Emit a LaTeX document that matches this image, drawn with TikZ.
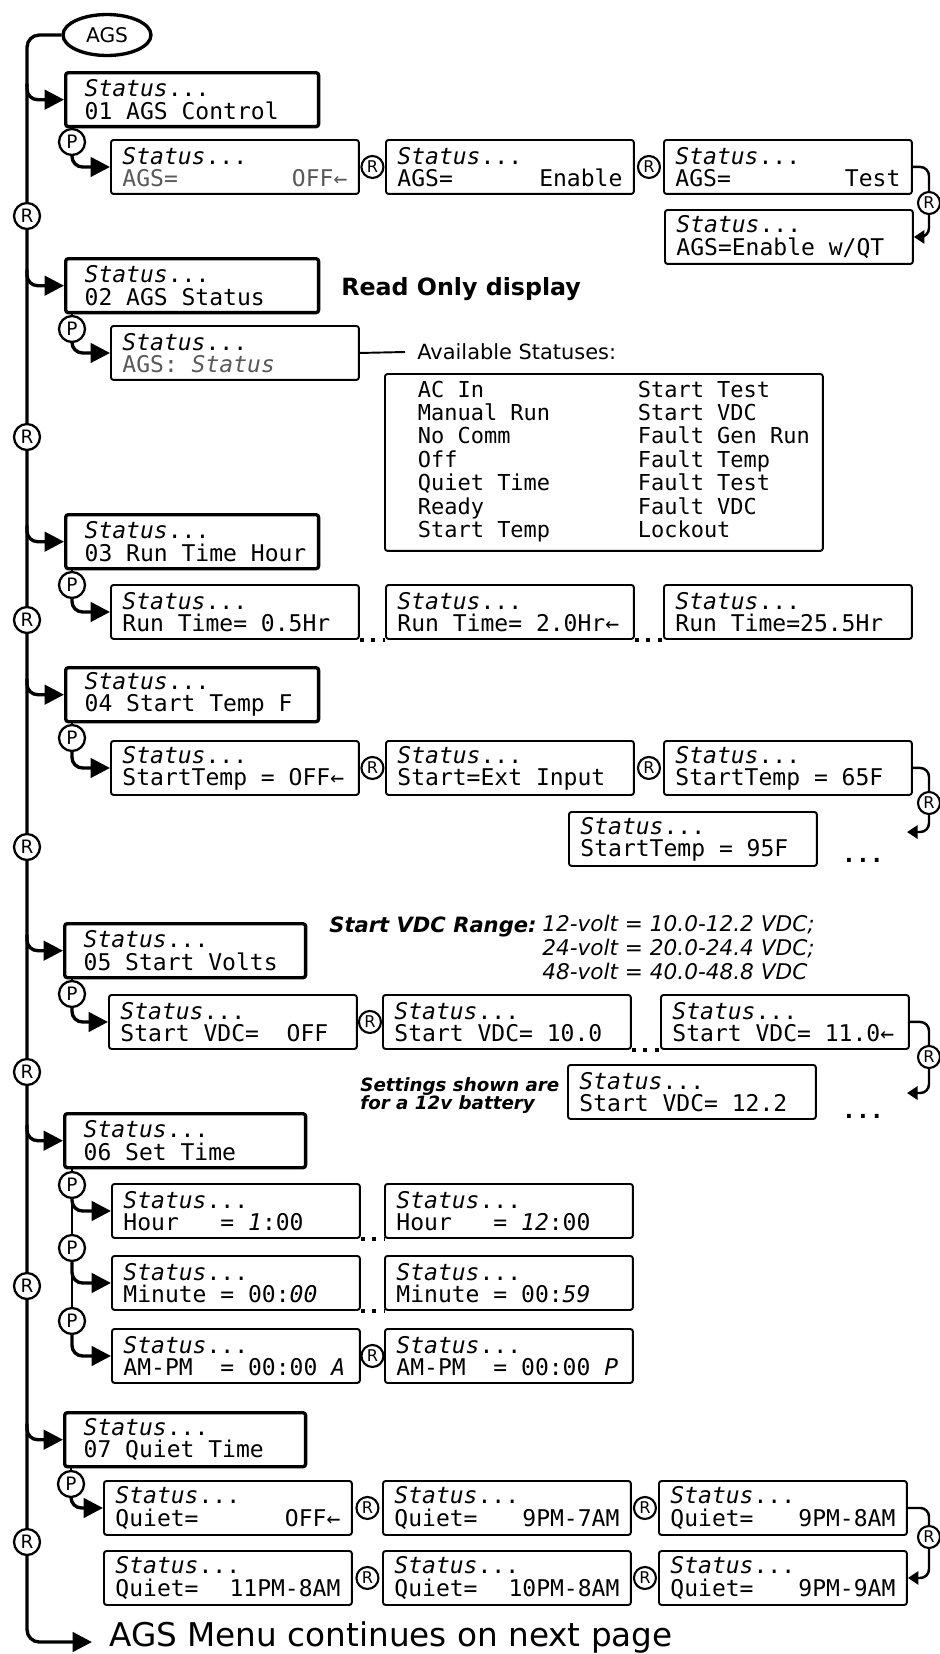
\documentclass[tikz,border=0pt]{standalone}
\usepackage{fontspec}
\setmainfont{DejaVu Sans}
\newfontfamily\lcdfont{DejaVu Sans Mono}
\usetikzlibrary{arrows.meta,calc,backgrounds,shapes.geometric}
\definecolor{DimClr}{gray}{0.35}
\newcommand{\statln}{\textit{Status}...}
\newcommand{\pushright}{\hspace{0pt plus 1filll}}

\begin{document}
\begin{tikzpicture}[x=0.02cm,y=-0.02cm,
  lcd/.style={font=\lcdfont\fontsize{13.1}{12.6}\selectfont,execute at begin node={\spaceskip=7.886pt\relax}},
  menubox/.style={lcd,draw,line width=1.9pt,rounded corners=1.5pt,fill=white,anchor=north west,
    minimum height=1.08cm,text width=4.30cm,inner xsep=0.38cm,inner ysep=0pt,align=left},
  setbox/.style={lcd,draw,line width=1.1pt,rounded corners=1.5pt,fill=white,anchor=north west,
    minimum height=1.08cm,text width=4.50cm,inner xsep=0.23cm,inner ysep=0pt,align=left},
  listbox/.style={font=\lcdfont\fontsize{12.5}{12.6}\selectfont,execute at begin node={\spaceskip=7.525pt\relax},
    draw,line width=1.1pt,rounded corners=1.5pt,anchor=north west,
    minimum height=3.54cm,text width=7.44cm,inner xsep=0.66cm,align=left},
  pbtn/.style={circle,draw,line width=1.3pt,fill=white,minimum size=0.52cm,inner sep=0pt,
    font=\fontsize{10.5}{10}\selectfont},
  rsmall/.style={pbtn,line width=1.2pt,minimum size=0.44cm,font=\fontsize{9.2}{9}\selectfont},
  spine/.style={line width=1.9pt,rounded corners=7pt},
  branch/.style={spine,rounded corners=6pt,-{Triangle[length=11pt,width=11pt]}},
  plink/.style={line width=1.6pt},
  backflow/.style={line width=1.4pt,rounded corners=5pt},
  backarrow/.style={backflow,-{Triangle[length=6pt,width=7.5pt]}},
  skipdots/.style={line width=2.3pt,dash pattern=on 2.3pt off 4.2pt},
  note/.style={inner sep=0pt,align=left}]
\useasboundingbox (0,0) rectangle (940,1654);

\node[ellipse,draw,line width=1.9pt,fill=white,minimum width=1.76cm,minimum height=0.82cm,
  inner sep=0pt,font=\fontsize{11.5}{12}\selectfont] (ags) at (107,35) {AGS};
\coordinate (spinetop) at (27,35);
\coordinate (spineend) at (92,1642);

\node[menubox] (b01) at (64,71) {\statln\\01 AGS Control};
\node[menubox] (b02) at (64,257) {\statln\\02 AGS Status};
\node[menubox] (b03) at (64,513) {\statln\\\mbox{03 Run Time Hour}};
\node[menubox] (b04) at (64,666) {\statln\\04 Start Temp F};
\node[menubox,text width=4.06cm] (b05) at (63,922) {\statln\\05 Start Volts};
\node[menubox,text width=4.06cm] (b06) at (63,1112) {\statln\\06 Set Time};
\node[menubox,text width=4.06cm] (b07) at (63,1411) {\statln\\07 Quiet Time};

\foreach \y [count=\i] in {216,437,620,847,1072,1286,1542}
  \node[pbtn] (r\i) at (27,\y) {R};

\node[pbtn] (p1) at (72,142) {P};
\node[pbtn] (p2) at (72,329) {P};
\node[pbtn] (p3) at (72,585) {P};
\node[pbtn] (p4) at (72,738) {P};
\node[pbtn] (p5) at (72,994) {P};
\node[pbtn] (pf1) at (72,1185) {P};
\node[pbtn] (pf2) at (72,1248) {P};
\node[pbtn] (pf3) at (72,1321) {P};
\node[pbtn] (p7) at (71,1484) {P};

\node[setbox] (a1) at (110,139) {\statln\\{\color{DimClr}AGS=\pushright OFF←}};
\node[setbox] (a2) at (385,139) {\statln\\AGS=\pushright Enable};
\node[setbox] (a3) at (663,139) {\statln\\AGS=\pushright Test};
\node[setbox] (a4) at (664,209) {\statln\\AGS=Enable w/QT};

\node[setbox] (s2) at (110,325) {\statln\\{\color{DimClr}AGS: \textit{Status}}};
\node[note,anchor=west,font=\bfseries\fontsize{13.5}{14}\selectfont] (readonly) at (341,289) {Read Only display};
\node[anchor=west,inner xsep=0.24cm,inner ysep=0pt,font=\fontsize{11.9}{14}\selectfont] (avail) at (405,352) {Available Statuses:};
\node[listbox] (list) at (384,373) {\begin{tabular}{@{}p{4.40cm}@{}l@{}}
  AC In & Start Test\\ Manual Run & Start VDC\\ No Comm & Fault Gen Run\\ Off & Fault Temp\\
  Quiet Time & Fault Test\\ Ready & Fault VDC\\ Start Temp & Lockout\end{tabular}};

\node[setbox] (c1) at (110,584) {\statln\\Run Time= 0.5Hr};
\node[setbox] (c2) at (385,584) {\statln\\Run Time= 2.0Hr←};
\node[setbox] (c3) at (663,584) {\statln\\Run Time=25.5Hr};

\node[setbox] (d1) at (110,740) {\statln\\StartTemp = OFF←};
\node[setbox] (d2) at (385,740) {\statln\\Start=Ext Input};
\node[setbox] (d3) at (663,740) {\statln\\StartTemp = 65F};
\node[setbox] (d4) at (568,811) {\statln\\StartTemp = 95F};
\coordinate (dend) at (907,832);
\node[anchor=base,font=\lcdfont\bfseries\fontsize{13.1}{12.6}\selectfont] (more1) at (863,862) {...};

\node[note,anchor=base west,font=\bfseries\itshape\fontsize{12}{13}\selectfont] (vdcrange) at (329,932) {Start VDC Range:};
\node[note,anchor=north west,font=\itshape\fontsize{12.3}{13.6}\selectfont] (vdcvals) at (542,915)
  {12-volt = 10.0-12.2 VDC;\\24-volt = 20.0-24.4 VDC;\\48-volt = 40.0-48.8 VDC};
\node[setbox] (e1) at (108,994) {\statln\\Start VDC=\ \ OFF};
\node[setbox] (e2) at (382,994) {\statln\\Start VDC= 10.0};
\node[setbox] (e3) at (660,994) {\statln\\Start VDC= 11.0←};
\node[setbox] (e4) at (567,1064) {\statln\\Start VDC= 12.2};
\coordinate (eend) at (907,1093);
\node[note,anchor=north west,font=\bfseries\itshape\fontsize{10.4}{10.6}\selectfont] (battery) at (360,1077)
  {Settings shown are\\for a 12v battery};
\node[anchor=base,font=\lcdfont\bfseries\fontsize{13.1}{12.6}\selectfont] (more2) at (863,1118) {...};

\node[setbox] (f1) at (111,1183) {\statln\\Hour\ \ \ = \textit{1}:00};
\node[setbox] (f2) at (384,1183) {\statln\\Hour\ \ \ = \textit{12}:00};
\node[setbox] (f3) at (111,1255) {\statln\\Minute = 00:\textit{00}};
\node[setbox] (f4) at (384,1255) {\statln\\Minute = 00:\textit{59}};
\node[setbox] (f5) at (111,1328) {\statln\\AM-PM\ \ = 00:00 \textit{A}};
\node[setbox] (f6) at (384,1328) {\statln\\AM-PM\ \ = 00:00 \textit{P}};

\node[setbox] (g1) at (103,1480) {\statln\\Quiet=\pushright OFF←};
\node[setbox] (g2) at (382,1480) {\statln\\Quiet=\pushright 9PM-7AM};
\node[setbox] (g3) at (658,1480) {\statln\\Quiet=\pushright 9PM-8AM};
\node[setbox] (g4) at (103,1550) {\statln\\Quiet=\pushright 11PM-8AM};
\node[setbox] (g5) at (382,1550) {\statln\\Quiet=\pushright 10PM-8AM};
\node[setbox] (g6) at (658,1550) {\statln\\Quiet=\pushright 9PM-9AM};

\foreach \l/\r [count=\i] in {a1/a2,a2/a3,d1/d2,d2/d3,e1/e2,f5/f6,g1/g2,g2/g3,g4/g5,g5/g6}
  \node[rsmall] (rs\i) at ($(\l.east)!0.5!(\r.west)$) {R};
\node[rsmall] (ra) at (929,203) {R};
\node[rsmall] (rd) at (929,803) {R};
\node[rsmall] (re) at (929,1057) {R};
\node[rsmall] (rg) at (929,1537) {R};

\node[note,anchor=base west,font=\fontsize{18.6}{20}\selectfont] (cont) at (109,1646) {AGS Menu continues on next page};

\begin{scope}[on background layer]
\draw[spine,-{Triangle[length=11pt,width=11pt]}] (ags.west) -| (spinetop |- spineend) -- (spineend);
\foreach \b in {b01,b02,b03,b04,b05,b06,b07}
  \draw[branch] ($(spinetop |- \b.west)+(0,-16)$) |- (\b.west);
\foreach \b/\p/\s in {b01/p1/a1,b02/p2/s2,b03/p3/c1,b04/p4/d1,b05/p5/e1,b07/p7/g1}{
  \draw[plink] (\p |- \b.south) -- (\p);
  \draw[branch] (\p.south) |- (\s.west);}
\draw[plink] (pf1 |- b06.south) -- (pf1) -- (pf2) -- (pf3);
\foreach \p/\s in {pf1/f1,pf2/f3,pf3/f5}
  \draw[branch] (\p.south) |- (\s.west);
\draw[line width=1.1pt] (s2.east) -- (avail.west);
\draw[backflow] (a3.east) -| (ra.north);
\draw[backarrow] (ra.south) |- (a4.east);
\draw[backflow] (d3.east) -| (rd.north);
\draw[backarrow] (rd.south) |- (dend);
\draw[backflow] (e3.east) -| (re.north);
\draw[backarrow] (re.south) |- (eend);
\draw[backflow] (g3.east) -| (rg.north);
\draw[backarrow] (rg.south) |- (g6.east);
\draw[skipdots] (c1.south east) -- (c2.south west);
\draw[skipdots] (c2.south east) -- (c3.south west);
\draw[skipdots] (e2.south east) -- (e3.south west);
\draw[skipdots] (f1.south east) -- (f2.south west);
\draw[skipdots] (f3.south east) -- (f4.south west);
\end{scope}
\end{tikzpicture}
\end{document}
